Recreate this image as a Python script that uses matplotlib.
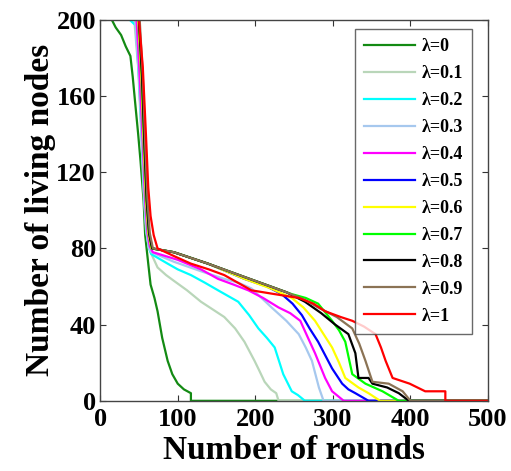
import matplotlib
matplotlib.use("Agg")
import matplotlib.pyplot as plt

plt.rcParams['font.family'] = ['Liberation Serif', 'DejaVu Serif']
plt.rcParams['font.weight'] = 'bold'

labels = ["λ=0", "λ=0.1", "λ=0.2", "λ=0.3", "λ=0.4", "λ=0.5",
          "λ=0.6", "λ=0.7", "λ=0.8", "λ=0.9", "λ=1"]
colors = ["#138a13", "#b9d6b9", "#00ffff", "#a6c8ee", "#ff00ff", "#0000ff",
          "#ffff00", "#00ff00", "#000000", "#8b7355", "#ff0000"]

x_l0 = [0, 15, 20, 27, 33, 39, 42, 45, 49, 52, 56, 58, 62, 65, 70, 74, 80, 87, 93, 100, 108, 117, 117, 500]
y_l0 = [200, 200, 196, 192, 186, 181, 170, 157, 140, 126, 105, 87, 72, 61, 54, 47, 33, 21, 14, 9, 6, 4, 0, 0]

x_l01 = [0, 44, 49, 53, 56, 59, 62, 65, 74, 85, 95, 112, 130, 145, 160, 174, 186, 199, 205, 212, 220, 227, 230, 500]
y_l01 = [200, 200, 175, 140, 110, 90, 82, 78, 70, 66, 63, 58, 52, 48, 44, 38, 31, 21, 16, 10, 6, 4, 0, 0]

x_l02 = [0, 38, 46, 50, 54, 57, 60, 63, 66, 87, 100, 117, 135, 152, 165, 178, 192, 204, 215, 225, 236, 247, 255, 264, 500]
y_l02 = [200, 200, 197, 170, 135, 105, 88, 80, 77, 72, 69, 66, 62, 58, 55, 52, 45, 38, 33, 28, 14, 5, 3, 0, 0]

x_l03 = [0, 45, 50, 54, 57, 60, 63, 66, 95, 130, 160, 178, 195, 208, 221, 240, 256, 265, 273, 282, 288, 500]
y_l03 = [200, 200, 170, 135, 105, 88, 80, 78, 73, 68, 64, 62, 59, 54, 49, 42, 35, 28, 21, 7, 0, 0]

x_l04 = [0, 47, 51, 55, 58, 61, 64, 68, 100, 130, 152, 172, 191, 210, 230, 245, 258, 268, 277, 284, 290, 299, 305, 314, 500]
y_l04 = [200, 200, 170, 135, 105, 88, 81, 78, 74, 69, 64, 61, 58, 54, 49, 46, 42, 33, 25, 18, 12, 5, 3, 0, 0]

x_l05 = [0, 49, 53, 56, 59, 62, 66, 95, 139, 186, 215, 234, 248, 260, 270, 281, 290, 299, 312, 320, 329, 346, 500]
y_l05 = [200, 200, 170, 135, 105, 88, 80, 78, 72, 64, 60, 56, 51, 45, 38, 31, 24, 17, 9, 6, 4, 0, 0]

x_l06 = [0, 49, 53, 56, 59, 62, 66, 95, 139, 186, 220, 247, 262, 277, 288, 299, 308, 316, 333, 346, 361, 500]
y_l06 = [200, 200, 170, 135, 105, 88, 80, 78, 72, 64, 59, 54, 49, 42, 35, 28, 20, 12, 7, 4, 0, 0]

x_l07 = [0, 50, 54, 57, 60, 63, 67, 95, 139, 186, 220, 247, 265, 281, 299, 308, 316, 325, 342, 364, 385, 500]
y_l07 = [200, 200, 170, 135, 105, 88, 80, 78, 72, 65, 60, 56, 54, 51, 42, 37, 31, 14, 9, 5, 0, 0]

x_l08 = [0, 50, 54, 57, 60, 63, 67, 95, 139, 186, 240, 264, 285, 303, 320, 329, 333, 346, 351, 370, 385, 398, 500]
y_l08 = [200, 200, 170, 135, 105, 88, 80, 78, 72, 65, 57, 52, 46, 40, 35, 25, 12, 12, 9, 7, 4, 0, 0]

x_l09 = [0, 51, 55, 58, 61, 64, 68, 95, 139, 186, 240, 264, 281, 305, 325, 334, 342, 351, 372, 390, 400, 500]
y_l09 = [200, 200, 170, 135, 105, 88, 80, 78, 72, 65, 57, 53, 49, 44, 38, 30, 21, 10, 9, 5, 0, 0]

x_l1 = [0, 50, 55, 59, 62, 65, 69, 74, 95, 117, 140, 160, 195, 225, 256, 275, 290, 310, 325, 340, 355, 362, 368, 377, 399, 419, 445, 445, 500]
y_l1 = [200, 200, 175, 140, 112, 97, 87, 80, 76, 72, 69, 66, 58, 56, 54, 51, 47, 44, 42, 39, 35, 28, 21, 12, 9, 5, 5, 0, 0]

xs = [x_l0, x_l01, x_l02, x_l03, x_l04, x_l05, x_l06, x_l07, x_l08, x_l09, x_l1]
ys = [y_l0, y_l01, y_l02, y_l03, y_l04, y_l05, y_l06, y_l07, y_l08, y_l09, y_l1]

fig = plt.figure(figsize=(5.11, 4.71), dpi=100)
ax = fig.add_axes([0.196, 0.149, 0.759, 0.809])

for x, y, c, lab in zip(xs, ys, colors, labels):
    ax.plot(x, y, color=c, lw=1.6, label=lab)

ax.set_xlim(0, 500)
ax.set_ylim(0, 200)
ax.set_xticks([0, 100, 200, 300, 400, 500])
ax.set_yticks([0, 40, 80, 120, 160, 200])
ax.tick_params(direction='in', top=True, right=True, length=4, labelsize=19, color='#333333')
ax.tick_params(axis='x', pad=5)
ax.tick_params(axis='y', pad=3)
for lab in ax.get_xticklabels() + ax.get_yticklabels():
    lab.set_fontweight('bold')
for s in ax.spines.values():
    s.set_color('#444444')
    s.set_linewidth(1.0)

ax.set_xlabel("Number of rounds", fontsize=24, fontweight='bold', labelpad=3)
ax.set_ylabel("Number of living nodes", fontsize=24, fontweight='bold', labelpad=0)

leg = ax.legend(loc='upper left', bbox_to_anchor=(0.657, 0.975),
                prop={'weight': 'bold', 'size': 13}, handlelength=2.8,
                labelspacing=0.55, frameon=True, fancybox=False, borderpad=0.5,
                handletextpad=0.4, borderaxespad=0)
leg.get_frame().set_edgecolor('#444444')
leg.get_frame().set_linewidth(1.0)

fig.savefig("out.png", dpi=100)
